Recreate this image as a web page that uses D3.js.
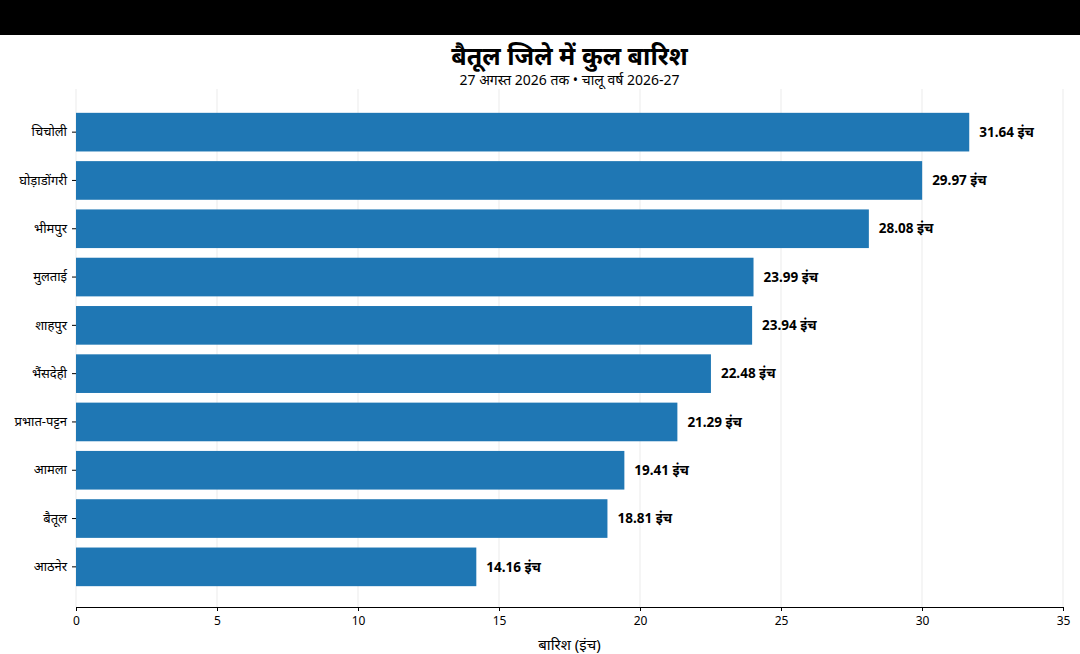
<!DOCTYPE html>
<html>
<head>
<meta charset="utf-8">
<script src="https://cdn.jsdelivr.net/npm/d3@7"></script>
<style>
  body { margin: 0; background: #fff; }
  svg { display: block; font-family: "Noto Sans", sans-serif; }
</style>
</head>
<body>
<svg id="chart" width="1080" height="654"></svg>
<script>
// data
const blocks = ["चिचोली", "घोड़ाडोंगरी", "भीमपुर", "मुलताई", "शाहपुर",
  "भैंसदेही", "प्रभात-पट्टन", "आमला", "बैतूल", "आठनेर"];
const rainfall = [31.64, 29.97, 28.08, 23.99, 23.94, 22.48, 21.29, 19.41, 18.81, 14.16];
const xTicks = [0, 5, 10, 15, 20, 25, 30, 35];

const chartTitle = "बैतूल जिले में कुल बारिश";
const subTitle = "27 अगस्त 2026 तक • चालू वर्ष 2026-27";
const xLabel = "बारिश (इंच)";
const unit = "इंच";

const W = 1080, H = 654;
const margin = { top: 89, left: 76, bottom: 47, right: 17 };
const plotBottom = H - margin.bottom;

const svg = d3.select("#chart");

// black strip at the top
svg.append("rect").attr("x", 0).attr("y", 0).attr("width", W).attr("height", 35).attr("fill", "#000");

const x = d3.scaleLinear().domain([0, 35]).range([margin.left, W - margin.right]);
const y = d3.scaleBand()
  .domain(blocks)
  .range([108, 591])
  .paddingInner(0.2)
  .paddingOuter(0.1);

// vertical grid
svg.append("g")
  .selectAll("line")
  .data(xTicks)
  .join("line")
  .attr("x1", d => x(d)).attr("x2", d => x(d))
  .attr("y1", margin.top).attr("y2", plotBottom)
  .attr("stroke", "#e6e6e6")
  .attr("stroke-width", 0.8);

// bars
svg.append("g")
  .selectAll("rect")
  .data(blocks)
  .join("rect")
  .attr("x", x(0))
  .attr("y", d => y(d))
  .attr("width", (d, i) => x(rainfall[i]) - x(0) + 1)
  .attr("height", y.bandwidth())
  .attr("fill", "#1f77b4");

// value labels
svg.append("g")
  .selectAll("text")
  .data(blocks)
  .join("text")
  .attr("x", (d, i) => x(rainfall[i]) + 11)
  .attr("y", d => y(d) + y.bandwidth() / 2)
  .attr("dy", "0.35em")
  .attr("font-size", 13.5)
  .attr("font-weight", "bold")
  .attr("fill", "#000")
  .text((d, i) => `${rainfall[i].toFixed(2)} ${unit}`);

// x axis
const xAxis = svg.append("g")
  .attr("transform", `translate(0,${plotBottom})`)
  .call(d3.axisBottom(x).tickValues(xTicks).tickSize(4).tickPadding(5));
xAxis.select(".domain").attr("stroke", "#000").attr("stroke-width", 1);
xAxis.selectAll("text").attr("font-size", 12).attr("fill", "#000").attr("font-family", "Noto Sans, sans-serif");

// y axis (ticks + labels only)
const yAxis = svg.append("g")
  .attr("transform", `translate(${margin.left},0)`)
  .call(d3.axisLeft(y).tickSize(4).tickPadding(5));
yAxis.select(".domain").remove();
yAxis.selectAll("text").attr("font-size", 13).attr("fill", "#000").attr("font-family", "Noto Sans, sans-serif");

// titles
const cx = (x(0) + x(35)) / 2;
svg.append("text")
  .attr("x", cx).attr("y", 65)
  .attr("text-anchor", "middle")
  .attr("font-size", 25).attr("font-weight", "bold")
  .text(chartTitle);
svg.append("text")
  .attr("x", cx).attr("y", 85)
  .attr("text-anchor", "middle")
  .attr("font-size", 14)
  .text(subTitle);
svg.append("text")
  .attr("x", cx).attr("y", 650)
  .attr("text-anchor", "middle")
  .attr("font-size", 15)
  .text(xLabel);
</script>
</body>
</html>
